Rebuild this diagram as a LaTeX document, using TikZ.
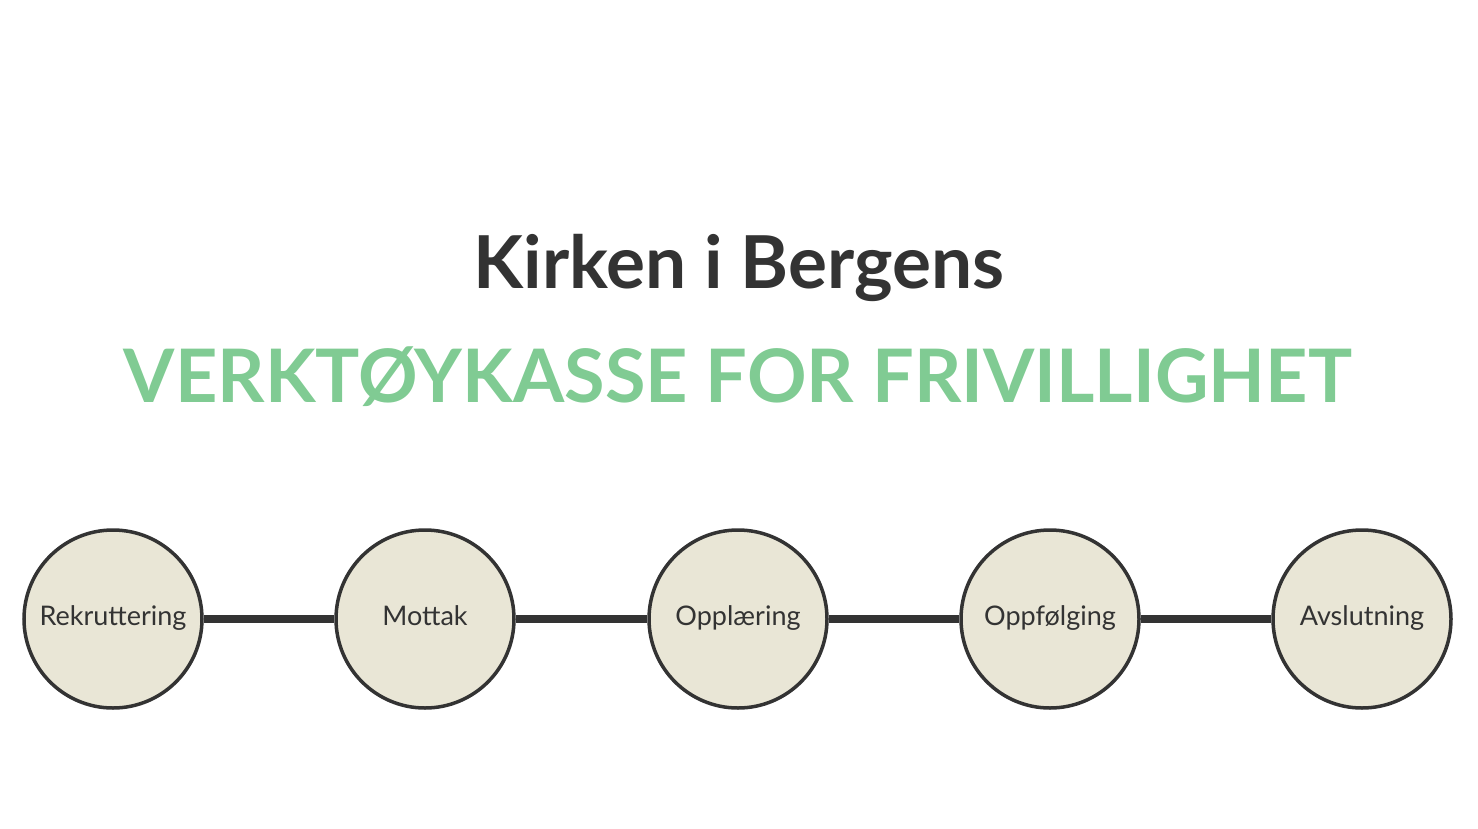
\documentclass[tikz,border=0pt]{standalone}
\usepackage{fontspec}
\setmainfont{Lato}
\definecolor{ink}{HTML}{333333}
\definecolor{greenT}{HTML}{80CB93}
\definecolor{beige}{HTML}{E9E6D6}
\begin{document}
\begin{tikzpicture}[x=1pt,y=-1pt,
  stage/.style={circle,draw=ink,line width=3.5pt,fill=beige,minimum size=178pt,inner sep=0pt,
    font=\fontsize{27}{27}\selectfont,text=ink,text height=19pt,text depth=6pt},
  link/.style={draw=ink,line width=8pt}]
\useasboundingbox (0,0) rectangle (1478,828);
\node[anchor=base,text=ink,font=\bfseries\fontsize{73}{73}\selectfont] (t1) at (739,288) {Kirken i Bergens};
\node[anchor=base,text=greenT,font=\bfseries\fontsize{73.8}{73.8}\selectfont] (t2) at (738,402) {VERKTØYKASSE FOR FRIVILLIGHET};
\node[stage] (c1) at (113,619) {Rekruttering};
\node[stage] (c2) at (425,619) {Mottak};
\node[stage] (c3) at (738,619) {Opplæring};
\node[stage] (c4) at (1050,619) {Oppfølging};
\node[stage] (c5) at (1362,619) {Avslutning};
\draw[link] (c1) -- (c2);
\draw[link] (c2) -- (c3);
\draw[link] (c3) -- (c4);
\draw[link] (c4) -- (c5);
\end{tikzpicture}
\end{document}
